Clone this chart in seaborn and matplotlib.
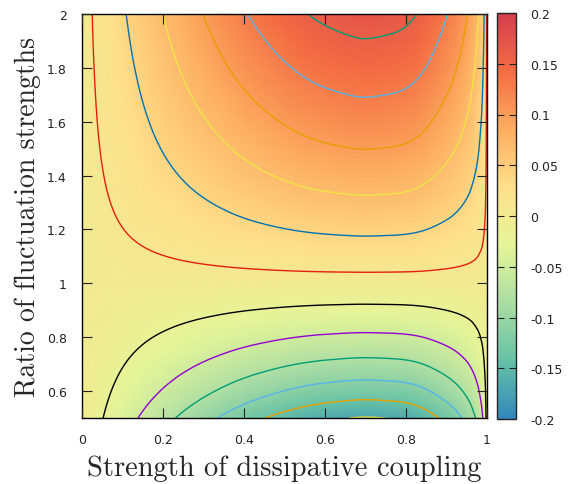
import numpy as np
import matplotlib
matplotlib.use("Agg")
import matplotlib.pyplot as plt
import matplotlib.tri as mtri
import seaborn as sns
from matplotlib.colors import LinearSegmentedColormap

# ---- data ----
# strength of dissipative coupling (x grid) and the relative profile along it
coupling = [0.0, 0.025, 0.05, 0.075, 0.1, 0.125, 0.15, 0.175, 0.2, 0.25, 0.3, 0.35,
            0.4, 0.45, 0.5, 0.55, 0.6, 0.65, 0.7, 0.75, 0.8, 0.825, 0.85, 0.875,
            0.9, 0.925, 0.95, 0.96, 0.97, 0.98, 0.985, 0.99, 0.995, 0.9975, 1.0]
coupling_profile = [0.0, 0.058, 0.112, 0.164, 0.215, 0.265, 0.314, 0.362, 0.409,
                    0.5, 0.586, 0.668, 0.745, 0.813, 0.874, 0.925, 0.962, 0.987,
                    1.0, 0.99, 0.965, 0.935, 0.89, 0.83, 0.765, 0.688, 0.59, 0.54,
                    0.478, 0.40, 0.35, 0.285, 0.19, 0.12, 0.0]
# ratio of fluctuation strengths (y grid) and the value along the peak column
ratio = [0.5, 0.55, 0.6, 0.65, 0.7, 0.75, 0.8, 0.85, 0.9, 0.95, 1.0, 1.05, 1.1,
         1.15, 1.2, 1.25, 1.3, 1.35, 1.4, 1.45, 1.5, 1.55, 1.6, 1.65, 1.7, 1.75,
         1.8, 1.85, 1.9, 1.95, 2.0]
ratio_profile = [-0.1716, -0.1480, -0.1264, -0.1066, -0.0883, -0.0712, -0.0552,
                 -0.0402, -0.0261, -0.0127, 0.0, 0.0121, 0.0236, 0.0346, 0.0451,
                 0.0552, 0.0649, 0.0743, 0.0833, 0.0920, 0.1004, 0.1085, 0.1163,
                 0.1239, 0.1313, 0.1385, 0.1455, 0.1523, 0.1589, 0.1653, 0.1716]
contour_levels = [-0.17, -0.14, -0.11, -0.08, -0.05, -0.02, 0.01, 0.04, 0.07,
                  0.10, 0.13, 0.16, 0.19]
contour_colors = ["#F0E442", "#E69F00", "#56B4E9", "#009E73", "#9400D3", "#000000",
                  "#E51E10", "#0072B2", "#F0E442", "#E69F00", "#56B4E9", "#009E73",
                  "#9400D3"]
x_ticks = [0, 0.2, 0.4, 0.6, 0.8, 1.0]
x_tick_labels = ["0", "0.2", "0.4", "0.6", "0.8", "1"]
y_ticks = [0.6, 0.8, 1.0, 1.2, 1.4, 1.6, 1.8, 2.0]
y_tick_labels = ["0.6", "0.8", "1", "1.2", "1.4", "1.6", "1.8", "2"]
cb_ticks = [-0.2, -0.15, -0.1, -0.05, 0, 0.05, 0.1, 0.15, 0.2]
cb_tick_labels = ["-0.2", "-0.15", "-0.1", "-0.05", "0", "0.05", "0.1", "0.15", "0.2"]
palette_hex = ["#3288BD", "#66C2A5", "#ABDDA4", "#E6F598", "#FEE08B", "#FDAE61",
               "#F46D43", "#D53E4F"]

sns.set_style("white")
plt.rcParams.update({
    "font.family": ["DejaVu Sans"],
    "xtick.direction": "in", "ytick.direction": "in",
    "xtick.bottom": True, "xtick.top": True,
    "ytick.left": True, "ytick.right": True,
    "xtick.major.size": 7, "ytick.major.size": 7,
    "xtick.major.width": 0.8, "ytick.major.width": 0.8,
    "xtick.color": "#222222", "ytick.color": "#222222",
    "axes.axisbelow": False,
})

field = np.outer(np.array(ratio_profile), np.array(coupling_profile))
X, Y = np.meshgrid(np.array(coupling), np.array(ratio))

cmap = LinearSegmentedColormap.from_list("spectral8", palette_hex)

fig = plt.figure(figsize=(5.69, 4.85), dpi=100)
ax = fig.add_axes([82 / 569, 66 / 485, 405 / 569, 404 / 485])
ax.pcolormesh(X, Y, field, shading="gouraud", cmap=cmap, vmin=-0.2, vmax=0.2,
              zorder=0)

# smooth contour drawing through matplotlib's triangulation + min-energy cubic refiner
ny, nx = field.shape
tris = []
for j in range(ny - 1):
    for i in range(nx - 1):
        a = j * nx + i
        b = a + 1
        c = a + nx
        d = c + 1
        tris.append([a, b, d])
        tris.append([a, d, c])
tri = mtri.Triangulation(X.ravel(), Y.ravel(), triangles=np.array(tris))
interp = mtri.CubicTriInterpolator(tri, field.ravel(), kind="min_E")
refiner = mtri.UniformTriRefiner(tri)
tri_f, z_f = refiner.refine_field(field.ravel(), triinterpolator=interp, subdiv=3)
ax.tricontour(tri_f, z_f, levels=contour_levels, colors=contour_colors,
              linewidths=1.0, zorder=1)

ax.set_xlim(0, 1)
ax.set_ylim(0.5, 2)
ax.set_xticks(x_ticks)
ax.set_xticklabels(x_tick_labels)
ax.set_yticks(y_ticks)
ax.set_yticklabels(y_tick_labels)
ax.tick_params(which="major", direction="in", length=7, width=0.8, color="#222222",
               bottom=True, left=True, top=True, right=True, labelsize=9, pad=11,
               zorder=5)
for s in ax.spines.values():
    s.set_color("black")
    s.set_linewidth(1.0)

ax.set_xlabel("Strength of dissipative coupling", family="cmr10", fontsize=20.5,
              labelpad=6)
ax.set_ylabel("Ratio of fluctuation strengths", family="cmr10", fontsize=20,
              labelpad=4)

cax = fig.add_axes([497 / 569, 65 / 485, 19 / 569, 406 / 485])
sm = matplotlib.cm.ScalarMappable(cmap=cmap, norm=matplotlib.colors.Normalize(-0.2, 0.2))
cb = fig.colorbar(sm, cax=cax)
cb.set_ticks(cb_ticks)
cb.set_ticklabels(cb_tick_labels)
cax.tick_params(which="major", direction="in", length=5, width=0.8, color="#222222",
                left=True, right=True, labelleft=False, labelright=True,
                labelsize=9, pad=10)
cb.outline.set_linewidth(1.0)

fig.savefig("out.png", dpi=100)
